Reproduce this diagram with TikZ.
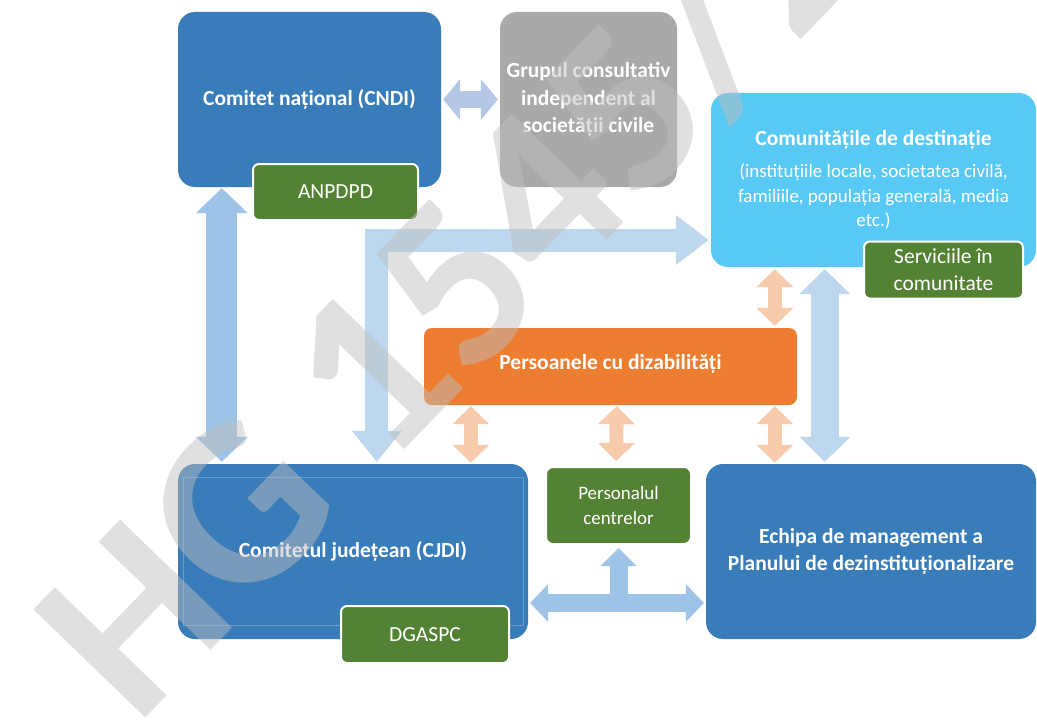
\documentclass[tikz,border=0pt]{standalone}
\usepackage{fontspec}
\setmainfont{Carlito}
\usetikzlibrary{arrows.meta}

\definecolor{boxblue}{RGB}{56,124,185}
\definecolor{boxgreen}{RGB}{84,130,53}
\definecolor{boxorange}{RGB}{237,125,49}
\definecolor{boxcyan}{RGB}{88,201,245}
\definecolor{boxgrey}{RGB}{170,169,168}
\definecolor{arrblue}{RGB}{157,195,230}
\definecolor{arrpale}{RGB}{189,215,238}
\definecolor{arrlav}{RGB}{180,199,231}
\definecolor{arrorange}{RGB}{248,203,173}
\definecolor{wmgrey}{RGB}{190,190,190}

\begin{document}
\begin{tikzpicture}[x=1pt,y=-1pt,
    big/.style={rounded corners=17pt,text=white,align=center,inner sep=0pt,
      font=\fontsize{21.5}{27.5}\selectfont\bfseries},
    tag/.style={fill=boxgreen,draw=white,line width=2pt,rounded corners=6pt,
      text=white,align=center,inner sep=0pt,font=\fontsize{21.5}{27}\selectfont},
    wmark/.style={anchor=base west,rotate=46,inner sep=0pt,text=wmgrey,
      text opacity=0.48,font=\fontsize{240}{240}\selectfont\bfseries}]
      \useasboundingbox (0,0) rectangle (1037,725);
      % boxes
      \begin{scope}
        \node[big,fill=boxblue,minimum width=263pt,minimum height=175pt] (cndi) at (309.5,99.5) {Comitet național (CNDI)};
        \node[big,fill=boxgrey,minimum width=177pt,minimum height=175pt] (grup) at (588.5,99.5) {Grupul consultativ\\independent al\\societății civile};
        \node[big,fill=boxcyan,minimum width=325pt,minimum height=174pt,font=\fontsize{19}{24.5}\selectfont] (comm) at (873.5,180)
          {{\fontsize{21.5}{27.5}\selectfont\bfseries Comunitățile de destinație}\\[8pt](instituțiile locale, societatea civilă,\\familiile, populația generală, media\\etc.)};
        \node[big,fill=boxorange,rounded corners=8pt,minimum width=373pt,minimum height=77pt,text depth=10pt] (pers) at (610.5,366.5) {Persoanele cu dizabilități};
        \node[big,fill=boxblue,minimum width=350pt,minimum height=175pt] (cjdi) at (353,551.5) {Comitetul județean (CJDI)};
        \node[big,fill=boxblue,minimum width=330pt,minimum height=175pt] (echipa) at (871,551.5) {Echipa de management a\\Planului de dezinstituționalizare};
      \end{scope}
      \draw[white,opacity=0.25,line width=0.6pt] ([shift={(5pt,-13pt)}]cjdi.north west) rectangle ([shift={(-5pt,14pt)}]cjdi.south east);
      \begin{scope}
        \node[tag,minimum width=165pt,minimum height=56pt] (anpdpd) at (335.5,192) {ANPDPD};
        \node[tag,minimum width=159pt,minimum height=57pt] (serv) at (943.5,270) {Serviciile în\\comunitate};
        \node[tag,minimum width=168pt,minimum height=57pt] (dgaspc) at (425,634.5) {DGASPC};
        \node[tag,rounded corners=7pt,minimum width=145pt,minimum height=77pt,font=\fontsize{19}{25}\selectfont] (centre) at (618.5,505.5) {Personalul\\centrelor};
      \end{scope}
      % block arrows
      \begin{scope}[line join=miter]
        \draw[arrlav,line width=17pt,{Triangle[width=41pt,length=17pt,line width=0pt]}-{Triangle[width=41pt,length=17pt,line width=0pt]},shorten <=2pt,shorten >=2pt]
          (cndi.east) -- (grup.west);
        \draw[arrblue,line width=31pt,{Triangle[width=52pt,length=25pt,line width=0pt]}-{Triangle[width=52pt,length=25pt,line width=0pt]},shorten <=1pt,shorten >=2pt]
          ([xshift=44pt]cndi.south west) -- ([xshift=44pt]cjdi.north west);
        \draw[arrpale,line width=23pt,{Triangle[width=50pt,length=31pt,line width=0pt]}-{Triangle[width=50pt,length=33pt,line width=0pt]},shorten <=2pt,shorten >=2pt]
          ([xshift=199pt]cjdi.north west) |- ([yshift=-60pt]comm.west);
        \draw[arrpale,line width=28pt,{Triangle[width=51pt,length=25pt,line width=0pt]}-{Triangle[width=51pt,length=25pt,line width=0pt]},shorten <=2pt,shorten >=2pt]
          ([xshift=114pt]comm.south west) -- ([xshift=119pt]echipa.north west);
        \draw[arrblue,line width=18pt,{Triangle[width=38pt,length=18pt,line width=0pt]}-{Triangle[width=38pt,length=18pt,line width=0pt]},shorten <=2pt,shorten >=2pt]
          ([yshift=-51.5pt]cjdi.east) -- ([yshift=-51.5pt]echipa.west);
        \draw[arrblue,line width=18pt,-{Triangle[width=36pt,length=18pt,line width=0pt]},shorten >=3pt]
          ([yshift=-51.5pt]cjdi.east -| centre.south) -- (centre.south);
      \end{scope}
      \begin{scope}[arrorange,line width=14pt]
        \draw[{Triangle[width=37pt,length=18pt,line width=0pt]}-{Triangle[width=37pt,length=18pt,line width=0pt]},shorten <=2pt,shorten >=2pt]
          ([xshift=64pt]comm.south west) -- ([xshift=351pt]pers.north west);
        \draw[{Triangle[width=37pt,length=18pt,line width=0pt]}-{Triangle[width=37pt,length=18pt,line width=0pt]},shorten <=1pt,shorten >=1pt]
          ([xshift=47pt]pers.south west) -- ([xshift=293pt]cjdi.north west);
        \draw[{Triangle[width=37pt,length=18pt,line width=0pt]}-{Triangle[width=37pt,length=18pt,line width=0pt]},shorten <=1pt,shorten >=5pt]
          ([xshift=193pt]pers.south west) -- ([xshift=71pt]centre.north west);
        \draw[{Triangle[width=37pt,length=18pt,line width=0pt]}-{Triangle[width=37pt,length=18pt,line width=0pt]},shorten <=1pt,shorten >=1pt]
          ([xshift=351pt]pers.south west) -- ([xshift=69pt]echipa.north west);
      \end{scope}
      % watermark
      \begin{scope}
        \clip (0,0) rectangle (1037,725);
        \node[wmark] (wm) at (136,728) {HG 1545/2016};
      \end{scope}
    \end{tikzpicture}
\end{document}
